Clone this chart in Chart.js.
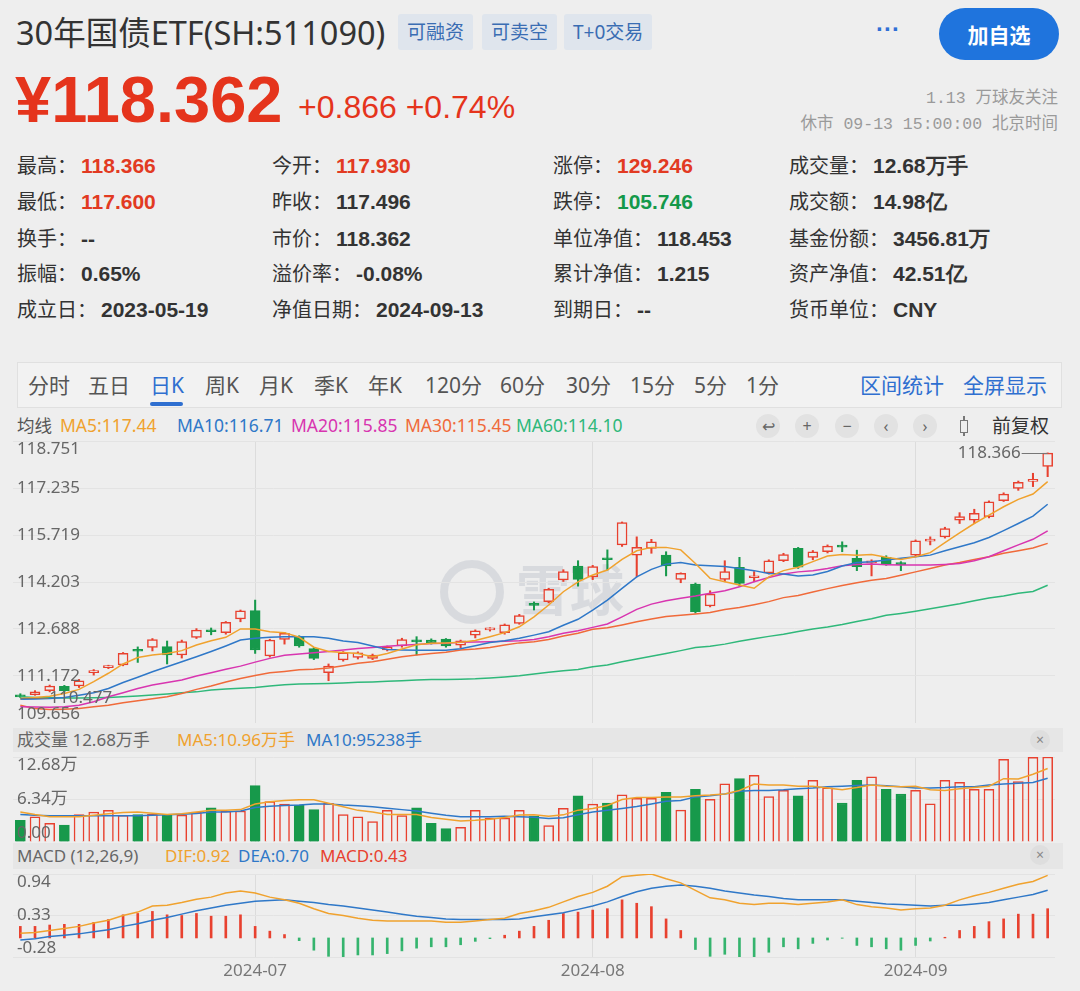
<!DOCTYPE html>
<html>
<head>
<meta charset="utf-8">
<script src="https://cdn.jsdelivr.net/npm/chart.js@4.4.0/dist/chart.umd.min.js"></script>
<style>
  html, body { margin: 0; padding: 0; }
  body { width: 1080px; height: 991px; overflow: hidden; position: relative; background: #eeeeee;
         font-family: "Noto Sans", "Noto Sans CJK SC", sans-serif; color: #333; }
  .a { position: absolute; white-space: nowrap; }
  .tag { position: absolute; top: 14px; height: 36px; line-height: 36px; padding: 0 9px; background: #dfe5ed;
         color: #3a6db3; font-size: 19px; border-radius: 3px; }
  .s { position: absolute; font-size: 20px; line-height: 30px; white-space: nowrap; color: #333;
       font-family: "Noto Sans CJK SC", sans-serif; }
  .s b { font-family: "Liberation Sans", Arial, sans-serif; font-weight: bold; font-size: 21px; margin-left: 4px; color: #333; }
  .s b.r { color: #e23a22; }
  .s b.g { color: #14994a; }
  .tb { position: absolute; top: 362px; line-height: 46px; font-size: 21px; color: #555; }
  .lg { position: absolute; top: 412px; line-height: 26px; font-size: 17.5px; }
  .ic { position: absolute; top: 414px; width: 24px; height: 24px; border-radius: 12px; background: #e2e2e2;
        color: #666; font-size: 16px; line-height: 24px; text-align: center; }
  .band { position: absolute; left: 13px; width: 1050px; background: #e6e6e6; }
  .ph { position: absolute; font-size: 17px; line-height: 24px; }
  .x { position: absolute; width: 20px; height: 20px; border-radius: 10px; background: #dedede; color: #888;
       font-size: 14px; line-height: 20px; text-align: center; }
  .box { position: absolute; left: 0; width: 1080px; }
  .mono { font-family: "Liberation Mono", "Noto Sans CJK SC", monospace; }
</style>
</head>
<body>

<div class="a" style="left:16px;top:11px;font-size:32.5px;line-height:44px;color:#333">30年国债ETF(SH:511090)</div>
<div class="tag" style="left:398px">可融资</div>
<div class="tag" style="left:482px">可卖空</div>
<div class="tag" style="left:564px">T+0交易</div>
<div class="a" style="left:876px;top:14px;font-family:'Liberation Sans',Arial,sans-serif;font-size:24px;line-height:30px;color:#2f6fd6;font-weight:bold">···</div>
<div class="a" style="left:939px;top:8px;width:120px;height:52px;border-radius:26px;background:#1f74dd;color:#fff;font-family:'Noto Sans CJK SC',sans-serif;font-size:21px;font-weight:bold;line-height:52px;text-align:center">加自选</div>

<div class="a" style="left:15px;top:63px;font-family:'Liberation Sans',Arial,sans-serif;font-weight:bold;font-size:65px;line-height:74px;color:#e5341c">¥118.362</div>
<div class="a" style="left:298px;top:87px;font-family:'Liberation Sans',Arial,sans-serif;font-size:32px;line-height:40px;color:#e5341c">+0.866 +0.74%</div>
<div class="a mono" style="right:22px;top:87px;font-size:16.5px;line-height:24px;color:#9a9a9a;text-align:right">1.13 万球友关注</div>
<div class="a mono" style="right:22px;top:113px;font-size:16.5px;line-height:24px;color:#9a9a9a;text-align:right">休市 09-13 15:00:00 北京时间</div>

<div class="s" style="left:17px;top:150px">最高：<b class="r">118.366</b></div>
<div class="s" style="left:272px;top:150px">今开：<b class="r">117.930</b></div>
<div class="s" style="left:553px;top:150px">涨停：<b class="r">129.246</b></div>
<div class="s" style="left:789px;top:150px">成交量：<b>12.68万手</b></div>

<div class="s" style="left:17px;top:186px">最低：<b class="r">117.600</b></div>
<div class="s" style="left:272px;top:186px">昨收：<b>117.496</b></div>
<div class="s" style="left:553px;top:186px">跌停：<b class="g">105.746</b></div>
<div class="s" style="left:789px;top:186px">成交额：<b>14.98亿</b></div>

<div class="s" style="left:17px;top:223px">换手：<b>--</b></div>
<div class="s" style="left:272px;top:223px">市价：<b>118.362</b></div>
<div class="s" style="left:553px;top:223px">单位净值：<b>118.453</b></div>
<div class="s" style="left:789px;top:223px">基金份额：<b>3456.81万</b></div>

<div class="s" style="left:17px;top:258px">振幅：<b>0.65%</b></div>
<div class="s" style="left:272px;top:258px">溢价率：<b>-0.08%</b></div>
<div class="s" style="left:553px;top:258px">累计净值：<b>1.215</b></div>
<div class="s" style="left:789px;top:258px">资产净值：<b>42.51亿</b></div>

<div class="s" style="left:17px;top:294px">成立日：<b>2023-05-19</b></div>
<div class="s" style="left:272px;top:294px">净值日期：<b>2024-09-13</b></div>
<div class="s" style="left:553px;top:294px">到期日：<b>--</b></div>
<div class="s" style="left:789px;top:294px">货币单位：<b>CNY</b></div>

<div class="a" style="left:17px;top:362px;width:1043px;height:44px;background:#f2f2f2;border:1px solid #e0e0e0"></div>
<div class="tb" style="left:28px">分时</div>
<div class="tb" style="left:88px">五日</div>
<div class="tb" style="left:150px;color:#2f6fd0">日K</div>
<div class="a" style="left:150px;top:402px;width:33px;height:4px;background:#2f6fd0;border-radius:2px"></div>
<div class="tb" style="left:205px">周K</div>
<div class="tb" style="left:259px">月K</div>
<div class="tb" style="left:314px">季K</div>
<div class="tb" style="left:368px">年K</div>
<div class="tb" style="left:425px">120分</div>
<div class="tb" style="left:500px">60分</div>
<div class="tb" style="left:566px">30分</div>
<div class="tb" style="left:630px">15分</div>
<div class="tb" style="left:694px">5分</div>
<div class="tb" style="left:746px">1分</div>
<div class="tb" style="left:860px;color:#2f6fd0">区间统计</div>
<div class="tb" style="left:963px;color:#2f6fd0">全屏显示</div>

<div class="lg" style="left:17px;color:#555">均线</div>
<div class="lg" style="left:60px;color:#f0a22e">MA5:117.44</div>
<div class="lg" style="left:177px;color:#2f78c8">MA10:116.71</div>
<div class="lg" style="left:291px;color:#d835b0">MA20:115.85</div>
<div class="lg" style="left:405px;color:#f06a3a">MA30:115.45</div>
<div class="lg" style="left:516px;color:#2fb87a">MA60:114.10</div>
<div class="ic" style="left:756px">↩</div>
<div class="ic" style="left:795px">+</div>
<div class="ic" style="left:835px">−</div>
<div class="ic" style="left:874px">‹</div>
<div class="ic" style="left:913px">›</div>
<div class="a" style="left:963px;top:416px;width:2px;height:20px;background:#777"></div>
<div class="a" style="left:960px;top:420px;width:6px;height:11px;border:1px solid #777;background:#eee"></div>
<div class="a" style="left:992px;top:411px;font-family:'Noto Sans CJK SC',sans-serif;font-size:19px;line-height:28px;color:#333">前复权</div>

<!-- watermark -->
<div class="a" style="left:440px;top:560px;width:48px;height:48px;border-radius:50%;border:8px solid rgba(160,168,182,0.28)"></div>
<div class="a" style="left:516px;top:556px;font-family:'Noto Sans CJK SC',sans-serif;font-size:54px;line-height:64px;font-weight:bold;color:rgba(160,168,182,0.28)">雪球</div>

<div class="box" style="top:441px;height:282px"><canvas id="kline"></canvas></div>

<div class="band" style="top:728px;height:24px"></div>
<div class="ph" style="left:17px;top:728px;color:#666">成交量 12.68万手</div>
<div class="ph" style="left:177px;top:728px;color:#f0a22e">MA5:10.96万手</div>
<div class="ph" style="left:306px;top:728px;color:#2f78c8">MA10:95238手</div>
<div class="x" style="left:1030px;top:730px">×</div>
<div class="box" style="top:752px;height:90px"><canvas id="vol"></canvas></div>

<div class="band" style="top:843px;height:26px"></div>
<div class="ph" style="left:17px;top:844px;color:#666">MACD (12,26,9)</div>
<div class="ph" style="left:165px;top:844px;color:#f0a22e">DIF:0.92</div>
<div class="ph" style="left:238px;top:844px;color:#2f78c8">DEA:0.70</div>
<div class="ph" style="left:320px;top:844px;color:#e8412f">MACD:0.43</div>
<div class="x" style="left:1030px;top:845px">×</div>
<div class="box" style="top:868px;height:123px"><canvas id="macd"></canvas></div>

<script>
// trading days shown on the chart
const dates = [
  '2024-06-06','2024-06-07','2024-06-11','2024-06-12','2024-06-13','2024-06-14','2024-06-17','2024-06-18',
  '2024-06-19','2024-06-20','2024-06-21','2024-06-24','2024-06-25','2024-06-26','2024-06-27','2024-06-28',
  '2024-07-01','2024-07-02','2024-07-03','2024-07-04','2024-07-05','2024-07-08','2024-07-09','2024-07-10',
  '2024-07-11','2024-07-12','2024-07-15','2024-07-16','2024-07-17','2024-07-18','2024-07-19','2024-07-22',
  '2024-07-23','2024-07-24','2024-07-25','2024-07-26','2024-07-29','2024-07-30','2024-07-31',
  '2024-08-01','2024-08-02','2024-08-05','2024-08-06','2024-08-07','2024-08-08','2024-08-09','2024-08-12',
  '2024-08-13','2024-08-14','2024-08-15','2024-08-16','2024-08-19','2024-08-20','2024-08-21','2024-08-22',
  '2024-08-23','2024-08-26','2024-08-27','2024-08-28','2024-08-29','2024-08-30',
  '2024-09-02','2024-09-03','2024-09-04','2024-09-05','2024-09-06','2024-09-09','2024-09-10','2024-09-11',
  '2024-09-12','2024-09-13'
];

const opens = [110.56,110.57,110.70,110.84,110.85,111.28,111.44,111.53,112.03,112.09,
  112.12,111.85,112.42,112.65,112.57,113.01,113.28,111.82,112.35,112.44,
  112.06,111.28,111.69,111.77,111.74,112.01,112.14,112.32,112.33,112.36,
  112.17,112.49,112.66,112.57,112.87,113.49,113.57,114.27,114.72,114.37,
  114.97,115.40,115.07,115.29,115.07,114.29,114.14,113.43,114.29,114.68,
  114.34,114.50,114.89,115.29,115.00,115.18,115.38,114.97,114.82,115.00,
  114.83,115.07,115.52,115.66,116.20,116.20,116.31,116.83,117.22,117.45,
  117.930];
const highs = [110.60,110.70,110.88,110.87,111.06,111.38,111.52,111.93,112.11,112.38,
  112.30,112.33,112.70,112.72,112.93,113.30,113.62,112.36,112.58,112.47,
  112.09,111.56,111.96,111.95,111.88,112.14,112.39,112.44,112.37,112.38,
  112.33,112.66,112.73,112.85,113.16,113.56,114.00,114.60,114.89,114.74,
  115.24,116.14,115.66,115.58,115.18,114.50,114.17,113.92,114.89,115.00,
  114.54,114.92,115.13,115.32,115.22,115.40,115.50,115.23,114.92,115.05,
  114.86,115.56,115.66,115.97,116.44,116.55,116.82,117.08,117.46,117.71,
  118.366];
const lows = [110.477,110.55,110.66,110.66,110.80,111.20,111.41,111.50,111.61,111.98,
  111.56,111.75,112.38,112.50,112.52,112.92,111.90,111.78,112.20,112.10,
  111.70,111.02,111.65,111.72,111.70,111.98,112.10,111.85,112.20,112.10,
  112.08,112.40,112.62,112.52,112.84,113.30,113.53,114.22,114.07,114.28,
  114.59,115.35,114.37,115.13,114.40,114.18,113.20,113.40,114.21,114.07,
  114.21,114.46,114.86,114.64,114.92,115.14,115.18,114.57,114.40,114.74,
  114.57,115.02,115.40,115.62,116.09,116.09,116.27,116.80,117.16,117.28,
  117.600];
const closes = [110.50,110.66,110.85,110.70,111.02,111.33,111.49,111.90,111.97,112.35,
  111.85,112.28,112.65,112.60,112.90,113.27,112.01,112.33,112.55,112.14,
  111.74,111.49,111.92,111.92,111.85,112.11,112.35,112.27,112.24,112.14,
  112.31,112.63,112.70,112.82,113.12,113.45,113.97,114.54,114.29,114.70,
  114.92,116.12,115.32,115.50,114.72,114.48,113.25,113.81,114.54,114.16,
  114.39,114.89,115.09,114.68,115.18,115.36,115.33,114.70,114.89,114.77,
  114.76,115.53,115.56,115.93,116.31,116.42,116.79,117.04,117.42,117.496,
  118.362];

// moving averages as drawn on the chart
const ma5 = [110.45,110.48,110.52,110.61,110.74,110.99,111.26,111.56,111.77,111.85,
  111.90,111.99,112.17,112.31,112.42,112.69,112.69,112.60,112.57,112.42,
  112.10,111.96,111.93,111.90,111.79,111.90,112.04,112.18,112.23,112.24,
  112.26,112.32,112.44,112.57,112.76,113.08,113.46,113.89,114.21,114.43,
  114.59,114.93,115.21,115.32,115.32,115.24,114.80,114.32,114.21,114.11,
  114.00,114.37,114.57,114.68,114.86,115.04,115.09,115.07,115.09,115.00,
  114.93,115.02,115.15,115.47,115.79,116.09,116.36,116.63,116.87,117.04,
  117.44];
const ma10 = [110.42,110.43,110.45,110.48,110.55,110.63,110.77,110.96,111.13,111.31,
  111.47,111.63,111.79,111.96,112.14,112.33,112.39,112.42,112.44,112.44,
  112.44,112.39,112.30,112.25,112.14,112.03,112.01,112.00,112.00,112.00,
  112.05,112.15,112.25,112.31,112.39,112.49,112.60,112.81,113.00,113.30,
  113.62,114.00,114.37,114.61,114.78,114.83,114.75,114.73,114.70,114.64,
  114.57,114.48,114.46,114.40,114.43,114.54,114.72,114.83,114.86,114.91,
  114.97,115.02,115.07,115.21,115.34,115.47,115.64,115.86,116.09,116.33,
  116.71];
const ma20 = [110.18,110.17,110.16,110.18,110.23,110.34,110.50,110.63,110.77,110.88,
  110.96,111.04,111.17,111.28,111.39,111.49,111.62,111.74,111.84,111.88,
  111.92,111.96,112.01,112.06,112.09,112.13,112.16,112.19,112.22,112.23,
  112.26,112.27,112.28,112.29,112.31,112.35,112.44,112.55,112.63,112.74,
  112.85,113.08,113.32,113.49,113.60,113.68,113.75,113.84,113.92,114.05,
  114.21,114.35,114.46,114.53,114.57,114.64,114.73,114.77,114.78,114.76,
  114.75,114.75,114.75,114.77,114.80,114.89,115.02,115.21,115.40,115.58,
  115.85];
const ma30 = [110.23,110.12,110.09,110.10,110.12,110.18,110.23,110.31,110.37,110.44,
  110.50,110.61,110.74,110.85,110.98,111.09,111.19,111.28,111.32,111.37,
  111.39,111.43,111.50,111.58,111.63,111.71,111.79,111.85,111.90,111.94,
  112.01,112.04,112.09,112.17,112.24,112.28,112.35,112.46,112.55,112.68,
  112.73,112.82,112.92,113.01,113.09,113.13,113.17,113.22,113.32,113.38,
  113.47,113.57,113.70,113.77,113.88,113.99,114.09,114.18,114.26,114.32,
  114.42,114.53,114.64,114.75,114.83,114.93,115.02,115.13,115.21,115.30,
  115.45];
const ma60 = [110.50,110.48,110.47,110.46,110.46,110.47,110.48,110.50,110.53,110.56,
  110.59,110.63,110.66,110.72,110.75,110.78,110.80,110.85,110.89,110.91,
  110.92,110.93,110.95,110.97,110.98,111.00,111.02,111.04,111.06,111.06,
  111.07,111.08,111.11,111.14,111.18,111.24,111.29,111.34,111.38,111.47,
  111.53,111.63,111.72,111.81,111.90,111.99,112.09,112.13,112.20,112.29,
  112.37,112.45,112.52,112.61,112.69,112.75,112.83,112.93,113.02,113.13,
  113.19,113.26,113.34,113.42,113.50,113.60,113.69,113.75,113.84,113.90,
  114.10];

// volume in 万手
const volumes = [3.25,3.77,2.78,2.51,4.09,4.46,4.72,3.98,4.09,4.15,
  4.09,4.02,4.46,5.09,4.62,4.62,8.40,6.04,5.67,5.51,
  4.83,5.77,4.09,3.77,3.04,4.72,3.93,5.09,2.78,1.99,
  2.20,4.72,3.56,3.56,4.72,3.83,2.44,5.01,6.89,5.66,
  5.82,7.05,6.51,6.51,7.42,4.75,7.85,6.35,8.66,9.46,
  9.94,6.78,7.69,6.89,9.19,8.07,5.82,9.19,9.73,7.85,
  7.16,7.69,5.71,9.19,8.92,7.85,7.85,12.35,9.03,12.62,
  12.68];
const volMa5 = [4.46,4.09,3.77,3.77,3.77,3.98,4.20,4.41,4.46,4.30,
  4.09,4.20,4.46,4.72,4.72,4.83,5.67,5.99,6.19,6.30,
  6.30,5.77,5.25,4.72,4.46,4.09,4.09,4.09,3.67,3.41,
  3.14,3.25,3.41,3.67,4.02,4.05,3.83,4.05,4.75,5.01,
  5.44,6.35,6.62,6.62,6.73,6.73,6.89,7.00,7.16,7.69,
  8.66,8.49,8.49,8.33,8.33,8.07,7.80,8.12,8.49,8.33,
  8.23,8.33,7.80,7.69,7.95,8.12,8.33,9.45,9.41,10.10,
  10.96];
const volMa10 = [4.09,3.98,3.93,3.93,3.93,3.93,3.93,3.93,3.93,3.98,
  4.05,4.15,4.25,4.46,4.46,4.62,5.14,5.35,5.46,5.51,
  5.67,5.67,5.51,5.41,5.25,5.04,4.83,4.62,4.30,3.98,
  3.77,3.77,3.77,3.85,3.78,3.68,3.51,3.62,4.05,4.48,
  4.75,5.01,5.28,5.66,6.08,6.19,6.73,6.89,7.16,7.58,
  7.69,7.69,7.80,7.96,8.07,8.23,8.33,8.44,8.49,8.39,
  8.23,8.07,8.07,8.12,8.23,8.23,8.49,8.66,8.76,8.87,
  9.52];

// MACD (12,26,9)
const dif = [0.07,0.08,0.11,0.14,0.17,0.22,0.26,0.33,0.38,0.47,
  0.48,0.52,0.57,0.60,0.66,0.69,0.66,0.60,0.56,0.51,
  0.43,0.36,0.33,0.29,0.26,0.25,0.25,0.25,0.25,0.23,
  0.23,0.25,0.27,0.29,0.36,0.40,0.45,0.53,0.61,0.67,
  0.76,0.90,0.92,0.94,0.87,0.81,0.70,0.59,0.56,0.51,
  0.49,0.51,0.51,0.49,0.51,0.53,0.56,0.49,0.46,0.44,
  0.41,0.43,0.44,0.48,0.56,0.62,0.67,0.73,0.79,0.83,
  0.92];
const dea = [-0.03,-0.01,0.02,0.04,0.06,0.09,0.12,0.17,0.21,0.26,
  0.30,0.35,0.40,0.44,0.48,0.51,0.54,0.55,0.56,0.54,
  0.52,0.49,0.47,0.44,0.41,0.38,0.35,0.32,0.30,0.28,
  0.27,0.27,0.27,0.27,0.28,0.31,0.34,0.37,0.42,0.47,
  0.53,0.61,0.68,0.73,0.76,0.78,0.76,0.73,0.69,0.66,
  0.63,0.61,0.58,0.56,0.56,0.56,0.56,0.54,0.52,0.50,
  0.49,0.48,0.47,0.48,0.48,0.50,0.52,0.56,0.60,0.64,
  0.70];
const macdHist = [0.17,0.17,0.19,0.20,0.20,0.23,0.27,0.34,0.36,0.39,
  0.34,0.33,0.36,0.32,0.32,0.34,0.17,0.10,0.05,-0.04,
  -0.18,-0.27,-0.30,-0.25,-0.25,-0.23,-0.19,-0.15,-0.13,-0.13,
  -0.10,-0.05,-0.01,0.04,0.10,0.17,0.26,0.36,0.38,0.41,
  0.43,0.56,0.51,0.46,0.28,0.11,-0.17,-0.27,-0.24,-0.28,
  -0.28,-0.21,-0.13,-0.16,-0.08,-0.03,-0.005,-0.11,-0.13,-0.16,
  -0.18,-0.11,-0.045,0.01,0.11,0.17,0.24,0.28,0.35,0.35,
  0.43];

// axis ticks
const priceTicks = [109.656, 111.172, 112.688, 114.203, 115.719, 117.235, 118.751];
const volTicks = [0, 6.34, 12.68];
const volTickText = ['0.00', '6.34万', '12.68万'];
const macdTicks = [-0.28, 0.33, 0.94];

const RED = '#e8412f', GREEN = '#17994b', MGREEN = '#35b46e', BG = '#eeeeee';
const up = closes.map((c, i) => c >= opens[i]);
const monthIdx = dates.map((d, i) => (i > 0 && d.slice(5, 7) !== dates[i - 1].slice(5, 7)) ? i : -1).filter(i => i >= 0);

const FONT = '17px "Noto Sans", "Noto Sans CJK SC", sans-serif';

// value labels drawn inside the plot on the left
const sideLabels = {
  id: 'sideLabels',
  afterDatasetsDraw(chart, args, opts) {
    const { ctx, chartArea, scales } = chart;
    ctx.save();
    ctx.font = FONT;
    ctx.fillStyle = '#666';
    ctx.textAlign = 'left';
    opts.values.forEach((v, i) => {
      const y = scales.y.getPixelForValue(v);
      if (i === opts.values.length - 1) ctx.textBaseline = 'top';
      else if (i === 0) ctx.textBaseline = 'bottom';
      else ctx.textBaseline = 'middle';
      ctx.fillText(opts.texts[i], chartArea.left + 4, y);
    });
    ctx.restore();
  }
};

// highest high / lowest low markers
const extremes = {
  id: 'extremes',
  afterDatasetsDraw(chart) {
    const { ctx, chartArea, scales: { x, y } } = chart;
    const hi = highs.indexOf(Math.max(...highs));
    const lo = lows.indexOf(Math.min(...lows));
    ctx.save();
    ctx.font = FONT;
    ctx.fillStyle = '#666';
    ctx.strokeStyle = '#777';
    ctx.lineWidth = 1;
    [[hi, highs[hi]], [lo, lows[lo]]].forEach(([i, v]) => {
      const px = x.getPixelForValue(i), py = Math.round(y.getPixelForValue(v)) + 0.5;
      const toLeft = px > (chartArea.left + chartArea.right) / 2;
      const ex = toLeft ? px - 26 : px + 28;
      ctx.beginPath(); ctx.moveTo(px, py); ctx.lineTo(ex, py); ctx.stroke();
      ctx.textAlign = toLeft ? 'right' : 'left';
      ctx.textBaseline = 'middle';
      ctx.fillText(v.toFixed(3), toLeft ? ex - 1 : ex + 1, py);
    });
    ctx.restore();
  }
};

// month labels under the bottom pane
const monthLabels = {
  id: 'monthLabels',
  afterDraw(chart) {
    const { ctx, chartArea, scales: { x } } = chart;
    ctx.save();
    ctx.font = FONT;
    ctx.fillStyle = '#777';
    ctx.textAlign = 'center';
    ctx.textBaseline = 'middle';
    monthIdx.forEach(i => ctx.fillText(dates[i].slice(0, 7), x.getPixelForValue(i), chartArea.bottom + 14));
    ctx.restore();
  }
};

function paneOptions(yMin, yMax, ticks, texts, pad) {
  return {
    responsive: true,
    maintainAspectRatio: false,
    animation: false,
    events: [],
    layout: { padding: pad },
    plugins: { legend: { display: false }, tooltip: { enabled: false }, sideLabels: { values: ticks, texts: texts } },
    scales: {
      x: {
        offset: true,
        grid: { offset: false, drawTicks: false, color: c => monthIdx.includes(c.index) ? '#dcdcdc' : 'rgba(0,0,0,0)' },
        border: { display: false },
        ticks: { display: false, autoSkip: false },
        afterFit(s) { s.height = 0; }
      },
      y: {
        min: yMin, max: yMax,
        grid: { drawTicks: false, color: '#e3e3e3' },
        border: { display: false },
        ticks: { display: false },
        afterBuildTicks(s) { s.ticks = ticks.map(v => ({ value: v })); },
        afterFit(s) { s.width = 0; }
      }
    }
  };
}

const line = (data, color) => ({ type: 'line', data, borderColor: color, borderWidth: 1.5, pointRadius: 0, tension: 0, order: 0 });

new Chart(document.getElementById('kline'), {
  type: 'bar',
  data: {
    labels: dates,
    datasets: [
      line(ma5, '#f0a22e'),
      line(ma10, '#2f78c8'),
      line(ma20, '#d835b0'),
      line(ma30, '#f06a3a'),
      line(ma60, '#2fb87a'),
      {
        data: dates.map((d, i) => [opens[i], closes[i]]),
        backgroundColor: up.map(u => u ? BG : GREEN),
        borderColor: up.map(u => u ? RED : GREEN),
        borderWidth: 1.5, borderSkipped: false, barThickness: 10, minBarLength: 2,
        grouped: false, order: 1
      },
      {
        data: dates.map((d, i) => [lows[i], highs[i]]),
        backgroundColor: up.map(u => u ? RED : GREEN),
        barThickness: 1.4, grouped: false, order: 2
      }
    ]
  },
  options: paneOptions(priceTicks[0], priceTicks[priceTicks.length - 1], priceTicks,
    priceTicks.map(v => v.toFixed(3)), { left: 13, right: 25, top: 0, bottom: 0 }),
  plugins: [sideLabels, extremes]
});

new Chart(document.getElementById('vol'), {
  type: 'bar',
  data: {
    labels: dates,
    datasets: [
      line(volMa5, '#f0a22e'),
      line(volMa10, '#2f78c8'),
      {
        data: volumes,
        backgroundColor: up.map(u => u ? BG : GREEN),
        borderColor: up.map(u => u ? RED : GREEN),
        borderWidth: 1.5, borderSkipped: 'start', barThickness: 10, order: 1
      }
    ]
  },
  options: paneOptions(0, 12.68, volTicks, volTickText, { left: 13, right: 25, top: 5, bottom: 0 }),
  plugins: [sideLabels]
});

new Chart(document.getElementById('macd'), {
  type: 'bar',
  data: {
    labels: dates,
    datasets: [
      line(dif, '#f0a22e'),
      line(dea, '#2f78c8'),
      {
        data: macdHist,
        backgroundColor: macdHist.map(v => v >= 0 ? RED : MGREEN),
        barThickness: 2, order: 1
      }
    ]
  },
  options: paneOptions(macdTicks[0], macdTicks[2], macdTicks, macdTicks.map(v => v.toFixed(2)),
    { left: 13, right: 25, top: 6, bottom: 34 }),
  plugins: [sideLabels, monthLabels]
});
</script>
</body>
</html>
